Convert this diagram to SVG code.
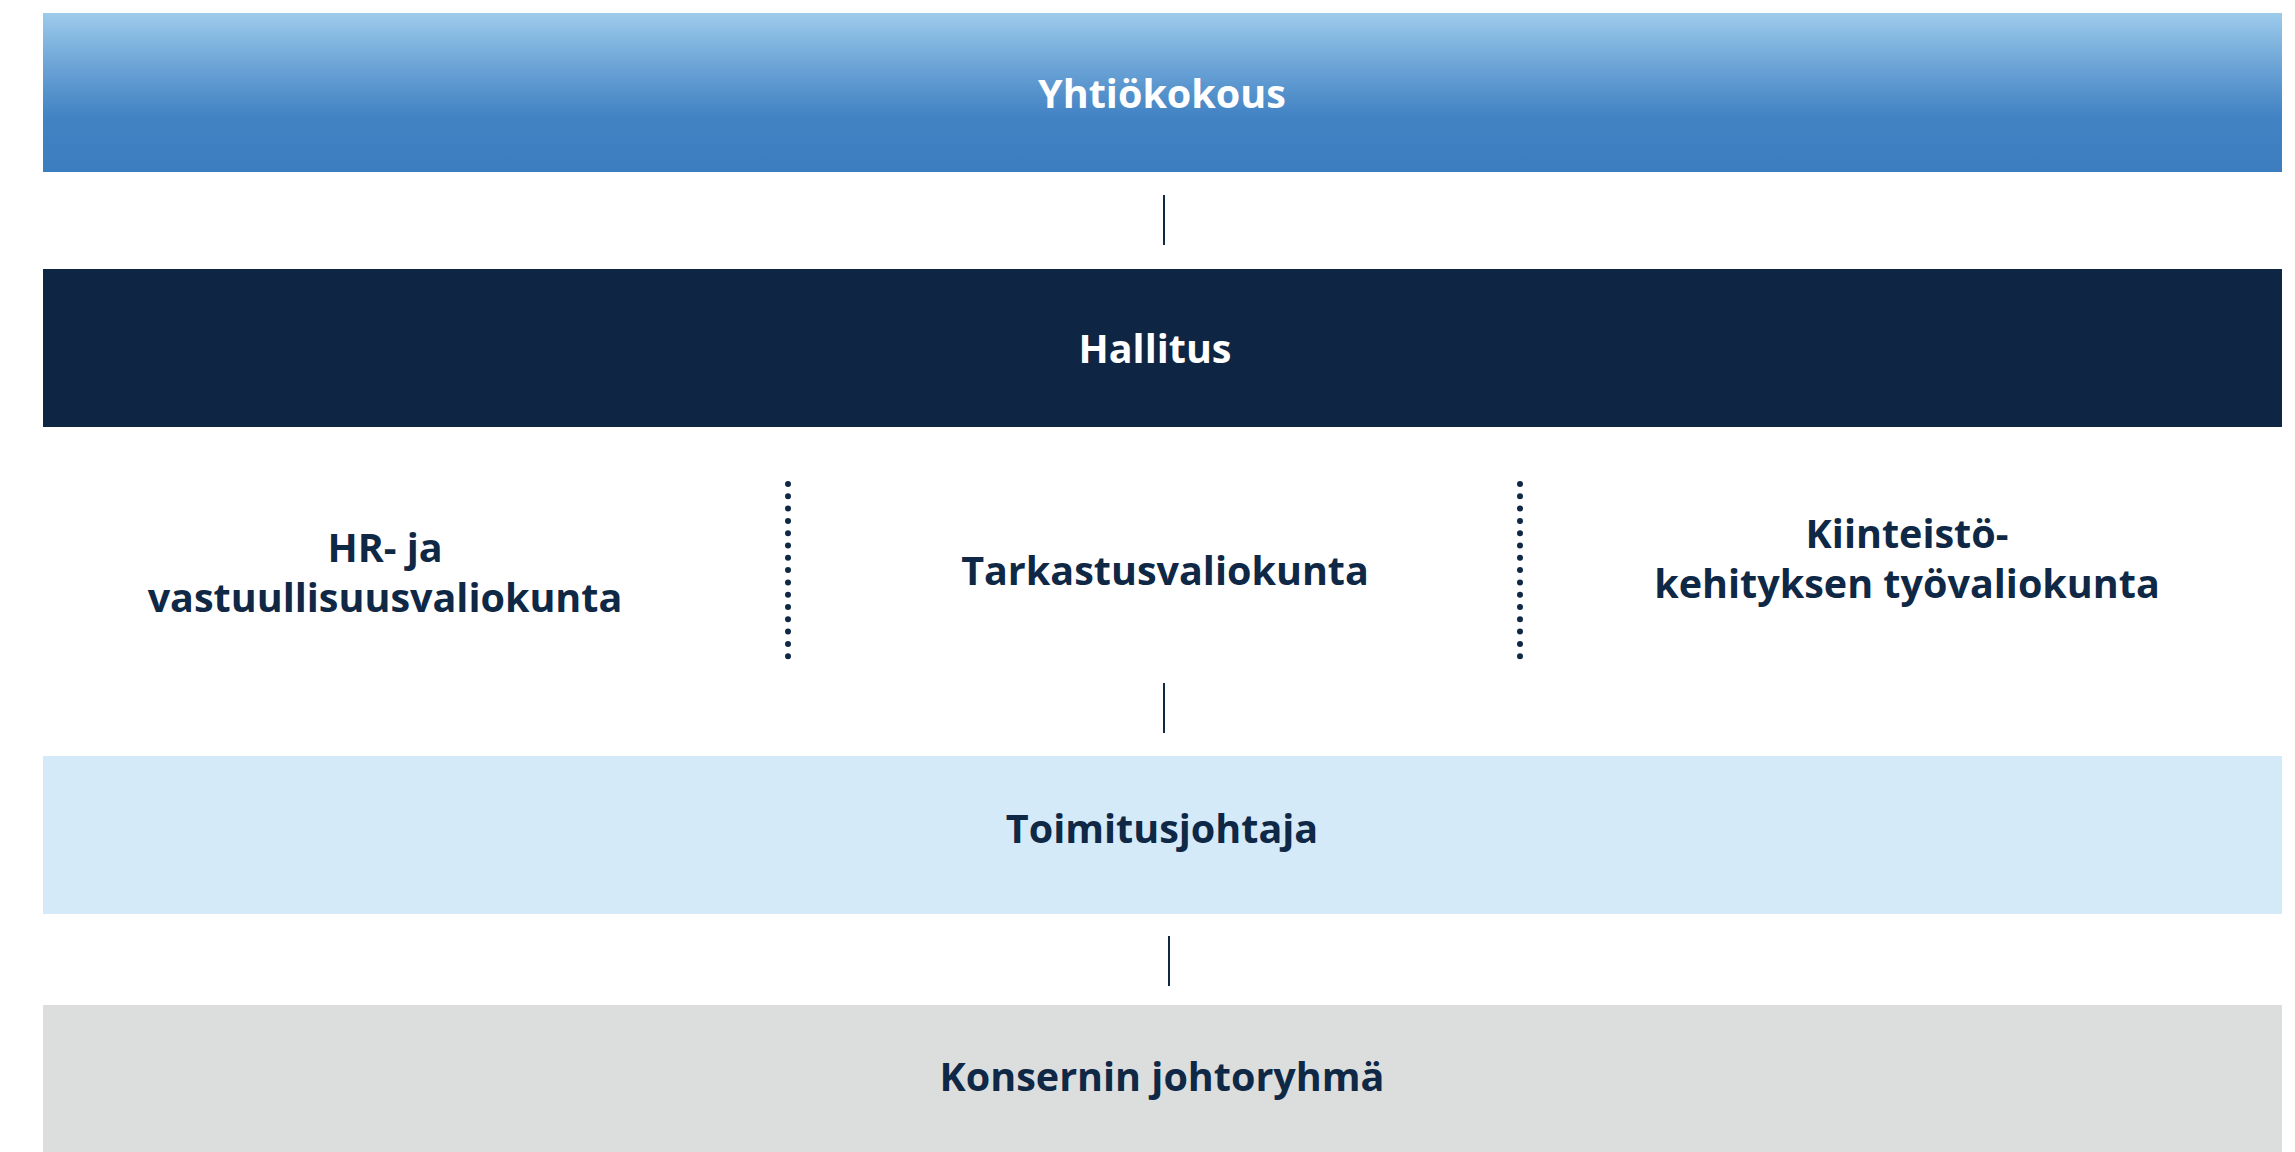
<svg xmlns="http://www.w3.org/2000/svg" width="2295" height="1152" viewBox="0 0 2295 1152">
  <defs>
    <linearGradient id="gTop" x1="0" y1="0" x2="0" y2="1">
      <stop offset="0" stop-color="#9dcbeb"/>
      <stop offset="0.35" stop-color="#69a2d5"/>
      <stop offset="0.65" stop-color="#4283c4"/>
      <stop offset="1" stop-color="#3c7dbf"/>
    </linearGradient>
    <style>
      .lbl { font-family: "Open Sans", "Noto Sans", "Liberation Sans", sans-serif; font-weight: 700; font-size: 39.5px; text-anchor: middle; fill: #0f2846; }
      .white { fill: #ffffff; }
      .conn { stroke: #0f2846; stroke-width: 2; fill: none; }
      .dots { stroke: #0f2846; stroke-width: 6; stroke-linecap: round; stroke-dasharray: 0 12.3; fill: none; }
    </style>
  </defs>
  <rect width="2295" height="1152" fill="#ffffff"/>
  <g id="yhtiokokous">
    <rect x="43" y="13" width="2239" height="159" fill="url(#gTop)"/>
    <text class="lbl white" x="1162" y="108">Yhtiökokous</text>
  </g>
  <g id="hallitus">
    <rect x="43" y="269" width="2239" height="158" fill="#0e2644"/>
    <text class="lbl white" x="1155" y="363">Hallitus</text>
  </g>
  <g id="hr-valiokunta">
    <text class="lbl" x="385" y="562">HR- ja</text>
    <text class="lbl" x="385" y="612">vastuullisuusvaliokunta</text>
  </g>
  <g id="tarkastusvaliokunta">
    <text class="lbl" x="1165" y="585">Tarkastusvaliokunta</text>
  </g>
  <g id="kiinteisto-valiokunta">
    <text class="lbl" x="1907" y="548">Kiinteistö-</text>
    <text class="lbl" x="1907" y="598">kehityksen työvaliokunta</text>
  </g>
  <g id="toimitusjohtaja">
    <rect x="43" y="756" width="2239" height="158" fill="#d5eaf9"/>
    <text class="lbl" x="1162" y="843">Toimitusjohtaja</text>
  </g>
  <g id="johtoryhma">
    <rect x="43" y="1005" width="2239" height="147" fill="#dcdddd"/>
    <text class="lbl" x="1162" y="1091">Konsernin johtoryhmä</text>
  </g>
  <g id="connectors">
    <line class="conn" x1="1164" y1="195" x2="1164" y2="245"/>
    <line class="conn" x1="1164" y1="683" x2="1164" y2="733"/>
    <line class="conn" x1="1169" y1="936" x2="1169" y2="986"/>
    <line class="dots" x1="788" y1="484" x2="788" y2="657"/>
    <line class="dots" x1="1520" y1="484" x2="1520" y2="657"/>
  </g>
</svg>
